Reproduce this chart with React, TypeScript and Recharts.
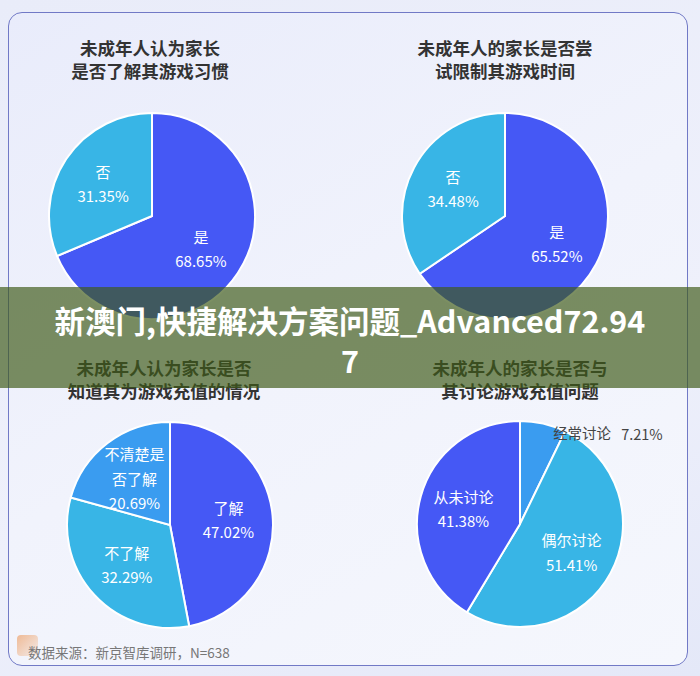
import React from "react";
import { PieChart, Pie, Cell } from "recharts";

// 四个问题的选项与占比（%）
const knowHabitCats = ["是", "否"];
const knowHabitVals = [68.65, 31.35];

const limitTimeCats = ["是", "否"];
const limitTimeVals = [65.52, 34.48];

const knowPayCats = ["了解", "不了解", "不清楚是否了解"];
const knowPayVals = [47.02, 32.29, 20.69];

const discussCats = ["经常讨论", "偶尔讨论", "从未讨论"];
const discussVals = [7.21, 51.41, 41.38];

const BLUE = "#4558f5";
const CYAN = "#38b5e6";
const MID = "#3a9cf0";

const FONT = '"Noto Sans CJK SC", "Noto Sans", sans-serif';
const RAD = Math.PI / 180;
const R = 103;

const toRows = (cats: string[], vals: number[]) =>
    cats.map((name, i) => ({ name, value: vals[i] }));

// 超过4个字就折行
const wrap = (s: string) => (s.length > 4 ? [s.slice(0, 4), s.slice(4)] : [s]);

const renderLabel = (props: any) => {
    const { cx, cy, midAngle, outerRadius, name, value, percent } = props;
    const cos = Math.cos(-midAngle * RAD);
    const sin = Math.sin(-midAngle * RAD);
    if (percent < 0.1) {
        // 小扇区标签放在外面
        const ex = cx + outerRadius * cos + 10;
        const ey = cy + outerRadius * sin + 9;
        return (
            <text x={ex} y={ey} fill="#444" fontSize={14.5} fontFamily={FONT} dominantBaseline="central">
                {name}
                <tspan dx={10}>{value.toFixed(2)}%</tspan>
            </text>
        );
    }
    const r = outerRadius * 0.57;
    const x = cx + r * cos;
    const y = cy + r * sin;
    const lines = [...wrap(name), value.toFixed(2) + "%"];
    return (
        <g>
            {lines.map((t, i) => (
                <text
                    key={i}
                    x={x}
                    y={y + (i - (lines.length - 1) / 2) * 24.5}
                    fill="#fff"
                    fontSize={15}
                    fontFamily={FONT}
                    textAnchor="middle"
                    dominantBaseline="central"
                >
                    {t}
                </text>
            ))}
        </g>
    );
};

const pies = [
    { data: toRows(knowHabitCats, knowHabitVals), colors: [BLUE, CYAN], cx: 152, cy: 216 },
    { data: toRows(limitTimeCats, limitTimeVals), colors: [BLUE, CYAN], cx: 505, cy: 216 },
    { data: toRows(knowPayCats, knowPayVals), colors: [BLUE, CYAN, MID], cx: 170, cy: 525 },
    { data: toRows(discussCats, discussVals), colors: [MID, CYAN, BLUE], cx: 520, cy: 524 },
];

const titles = [
    { lines: ["未成年人认为家长", "是否了解其游戏习惯"], x: 150, y: 36 },
    { lines: ["未成年人的家长是否尝", "试限制其游戏时间"], x: 505, y: 36 },
    { lines: ["未成年人认为家长是否", "知道其为游戏充值的情况"], x: 164, y: 356 },
    { lines: ["未成年人的家长是否与", "其讨论游戏充值问题"], x: 520, y: 356 },
];

export default function App() {
    return (
        <div
            style={{
                position: "absolute",
                left: 0,
                top: 0,
                width: 700,
                height: 676,
                overflow: "hidden",
                background: "linear-gradient(160deg, #e9ecf9 0%, #eef0fb 60%, #e4e8f8 100%)",
                fontFamily: FONT,
            }}
        >
            <div
                style={{
                    position: "absolute",
                    left: 8,
                    top: 12,
                    width: 678,
                    height: 652,
                    borderRadius: 14,
                    border: "1px solid #7179c6",
                    background: "linear-gradient(150deg, #e9ecfb 0%, #f1f3fc 50%, #f5f7fd 100%)",
                }}
            />
            {titles.map((t, i) => (
                <div
                    key={i}
                    style={{
                        position: "absolute",
                        left: t.x - 150,
                        top: t.y,
                        width: 300,
                        textAlign: "center",
                        fontSize: 17.5,
                        fontWeight: 700,
                        lineHeight: "23px",
                        color: "#333",
                    }}
                >
                    {t.lines[0]}
                    <br />
                    {t.lines[1]}
                </div>
            ))}
            <div style={{ position: "absolute", left: 0, top: 0 }}>
                <PieChart width={700} height={676} margin={{ top: 0, right: 0, bottom: 0, left: 0 }}>
                    {pies.map((p, i) => (
                        <Pie
                            key={i}
                            data={p.data}
                            dataKey="value"
                            nameKey="name"
                            cx={p.cx}
                            cy={p.cy}
                            outerRadius={R}
                            startAngle={90}
                            endAngle={-270}
                            stroke="#fff"
                            strokeWidth={2}
                            label={renderLabel}
                            labelLine={false}
                            isAnimationActive={false}
                        >
                            {p.data.map((d, j) => (
                                <Cell key={d.name} fill={p.colors[j]} />
                            ))}
                        </Pie>
                    ))}
                </PieChart>
            </div>
            <div
                style={{
                    position: "absolute",
                    left: 17,
                    top: 635,
                    width: 21,
                    height: 21,
                    borderRadius: 4,
                    background: "linear-gradient(135deg, rgba(238,176,132,0.85), rgba(246,214,190,0.3))",
                }}
            />
            <div
                style={{
                    position: "absolute",
                    left: 28,
                    top: 642,
                    fontSize: 13.5,
                    lineHeight: "20px",
                    color: "#777",
                }}
            >
                数据来源：新京智库调研，N=638
            </div>
            <div
                style={{
                    position: "absolute",
                    left: 0,
                    top: 287,
                    width: 700,
                    height: 101,
                    background: "rgba(62,90,24,0.68)",
                    color: "#fff",
                    fontSize: 30.5,
                    fontWeight: 700,
                    lineHeight: "40px",
                    textAlign: "center",
                    paddingTop: 13,
                    boxSizing: "border-box",
                    whiteSpace: "nowrap",
                }}
            >
                新澳门,快捷解决方案问题_Advanced72.94
                <br />7
            </div>
        </div>
    );
}
